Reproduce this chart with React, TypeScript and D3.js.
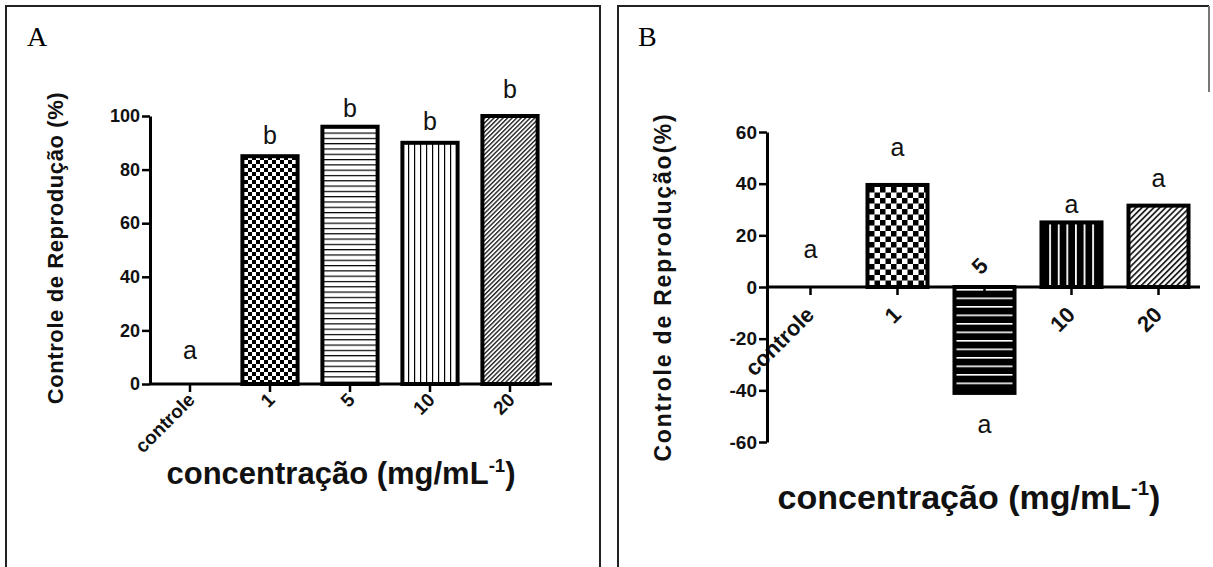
import React, { useEffect, useRef } from "react";
import * as d3 from "d3";

// data
const categories = ["controle", "1", "5", "10", "20"];
const valuesA = [0, 85, 96, 90, 100];
const lettersA = ["a", "b", "b", "b", "b"];
const letterYA = [12.7, 93, 103, 98, 110];
const valuesB = [0, 39.5, -41, 25, 31.5];
const lettersB = ["a", "a", "a", "a", "a"];
const letterYB = [14.5, 54, -53, 32, 42];
const ticksA = [0, 20, 40, 60, 80, 100];
const ticksB = [-60, -40, -20, 0, 20, 40, 60];
const patternsA = ["chkA", "hA", "vA", "dA"];
const patternsB = ["chkB", "hB", "vB", "dB"];

const SANS = "Arial, 'Liberation Sans', Helvetica, sans-serif";
const SERIF = "'Liberation Serif', 'Times New Roman', serif";

export default function App() {
  const ref = useRef<SVGSVGElement>(null);

  useEffect(() => {
    const svg = d3.select(ref.current);
    svg.selectAll("*").remove();
    const defs = svg.append("defs");

    // fill patterns
    const checker = (id, s) => {
      const p = defs.append("pattern").attr("id", id).attr("patternUnits", "userSpaceOnUse")
        .attr("width", s * 2).attr("height", s * 2);
      p.append("rect").attr("width", s * 2).attr("height", s * 2).attr("fill", "#fff");
      p.append("rect").attr("width", s).attr("height", s).attr("fill", "#000");
      p.append("rect").attr("x", s).attr("y", s).attr("width", s).attr("height", s).attr("fill", "#000");
    };
    const lines = (id, s, dir, bg, fg, w) => {
      const p = defs.append("pattern").attr("id", id).attr("patternUnits", "userSpaceOnUse")
        .attr("width", s).attr("height", s);
      p.append("rect").attr("width", s).attr("height", s).attr("fill", bg);
      if (dir === "h") p.append("rect").attr("width", s).attr("height", w).attr("fill", fg);
      else p.append("rect").attr("width", w).attr("height", s).attr("fill", fg);
    };
    const diag = (id, s, w) => {
      const p = defs.append("pattern").attr("id", id).attr("patternUnits", "userSpaceOnUse")
        .attr("width", s).attr("height", s).attr("patternTransform", "rotate(45)");
      p.append("rect").attr("width", s).attr("height", s).attr("fill", "#fff");
      p.append("rect").attr("width", w).attr("height", s).attr("fill", "#222");
    };
    checker("chkA", 4);
    lines("hA", 5.3, "h", "#fff", "#000", 1.2);
    lines("vA", 6, "v", "#fff", "#000", 1.2);
    diag("dA", 3.2, 1.4);
    checker("chkB", 5.5);
    lines("hB", 8.5, "h", "#000", "#fff", 1.6);
    lines("vB", 8.6, "v", "#000", "#fff", 1.8);
    diag("dB", 4.2, 1.8);

    // panel frames
    const frame = svg.append("g").attr("fill", "none");
    frame.append("path").attr("d", "M6,567V6H600V567").attr("stroke", "#222").attr("stroke-width", 2);
    frame.append("path").attr("d", "M618,567V6H1209").attr("stroke", "#222").attr("stroke-width", 2);
    frame.append("path").attr("d", "M1209,6V92").attr("stroke", "#777").attr("stroke-width", 2);

    svg.append("text").attr("x", 27).attr("y", 46).attr("font-family", SERIF)
      .attr("font-size", 28).text("A");
    svg.append("text").attr("x", 638).attr("y", 46).attr("font-family", SERIF)
      .attr("font-size", 28).text("B");

    const drawPanel = (cfg) => {
      const g = svg.append("g");
      const x = d3.scaleBand().domain(categories).range(cfg.xRange).paddingInner(0.31).paddingOuter(0.155);
      const y = d3.scaleLinear().domain(cfg.domain).range(cfg.yRange);
      const y0 = y(0);
      const cx = d => x(d) + x.bandwidth() / 2;

      // x tick labels (drawn before the bars so the covered one sits behind)
      g.append("g").selectAll("text").data(categories).join("text")
        .attr("transform", d => `translate(${cx(d) + cfg.lblDx},${y0 + cfg.lblDy}) rotate(-45)`)
        .attr("text-anchor", "end")
        .attr("font-family", SANS).attr("font-weight", "bold").attr("font-size", cfg.xTickFont)
        .attr("fill", "#111")
        .text(d => d);

      // bars
      g.append("g").selectAll("rect").data(cfg.values.slice(1)).join("rect")
        .attr("x", (d, i) => x(categories[i + 1]))
        .attr("width", x.bandwidth())
        .attr("y", d => y(Math.max(0, d)))
        .attr("height", d => Math.abs(y(d) - y0))
        .attr("fill", (d, i) => `url(#${cfg.patterns[i]})`)
        .attr("stroke", "#000").attr("stroke-width", cfg.barStroke);

      // significance letters
      g.append("g").selectAll("text").data(cfg.letters).join("text")
        .attr("x", (d, i) => cx(categories[i]))
        .attr("y", (d, i) => y(cfg.letterY[i]))
        .attr("dy", "0.35em")
        .attr("text-anchor", "middle")
        .attr("font-family", SANS).attr("font-size", cfg.letterFont).attr("fill", "#111")
        .text(d => d);

      // axes
      const yAxis = g.append("g").attr("transform", `translate(${cfg.xRange[0]},0)`)
        .call(d3.axisLeft(y).tickValues(cfg.ticks).tickSize(8).tickSizeOuter(0).tickPadding(2)
          .tickFormat(d => String(d)));
      yAxis.select(".domain").attr("stroke-width", 3);
      yAxis.selectAll(".tick line").attr("stroke-width", 2.5);
      yAxis.selectAll(".tick text").attr("font-family", SANS).attr("font-weight", "bold")
        .attr("font-size", cfg.tickFont).attr("fill", "#111");

      const xAxis = g.append("g").attr("transform", `translate(0,${y0})`)
        .call(d3.axisBottom(x).tickSize(8).tickSizeOuter(0).tickFormat(() => ""));
      xAxis.select(".domain").attr("stroke-width", 3).attr("d", `M${cfg.xRange[0]},0H${cfg.xEnd}`);
      xAxis.selectAll(".tick line").attr("stroke-width", 2.5);

      if (cfg.extraLabel) {
        const d = cfg.extraLabel;
        g.append("text")
          .attr("transform", `translate(${cx(d) + cfg.lblDx},${y0 - 20}) rotate(-45)`)
          .attr("text-anchor", "end")
          .attr("font-family", SANS).attr("font-weight", "bold").attr("font-size", cfg.xTickFont)
          .attr("fill", "#111").text(d);
      }

      // titles
      g.append("text")
        .attr("transform", `translate(${cfg.yTitle[0]},${cfg.yTitle[1]}) rotate(-90)`)
        .attr("text-anchor", "middle")
        .attr("font-family", SANS).attr("font-weight", "bold").attr("font-size", cfg.yTitleFont)
        .attr("letter-spacing", cfg.yTitleSpacing)
        .attr("fill", "#111").text(cfg.yLabel);

      const xt = g.append("text")
        .attr("x", cfg.xTitle[0]).attr("y", cfg.xTitle[1])
        .attr("text-anchor", "middle")
        .attr("font-family", SANS).attr("font-weight", "bold").attr("font-size", cfg.xTitleFont)
        .attr("fill", "#111");
      xt.append("tspan").text("concentração (mg/mL");
      xt.append("tspan").attr("dy", -cfg.xTitleFont * 0.4).attr("font-size", cfg.xTitleFont * 0.6).text("-1");
      xt.append("tspan").attr("dy", cfg.xTitleFont * 0.4).text(")");
    };

    drawPanel({
      xRange: [150, 550], xEnd: 552, domain: [0, 100], yRange: [384, 116],
      values: valuesA, letters: lettersA, letterY: letterYA, ticks: ticksA, patterns: patternsA,
      lblDx: 6, lblDy: 17, tickFont: 18, xTickFont: 19, letterFont: 25, barStroke: 4,
      yTitle: [63, 248], yTitleFont: 22, yTitleSpacing: 0.6, yLabel: "Controle de Reprodução (%)",
      xTitle: [341, 484], xTitleFont: 31,
    });
    drawPanel({
      xRange: [767, 1202], xEnd: 1200, domain: [-60, 60], yRange: [442, 132],
      values: valuesB, letters: lettersB, letterY: letterYB, ticks: ticksB, patterns: patternsB,
      lblDx: 5, lblDy: 29, tickFont: 19, xTickFont: 22, letterFont: 25, barStroke: 4, extraLabel: "5",
      yTitle: [671, 287], yTitleFont: 23, yTitleSpacing: 1.8, yLabel: "Controle de Reprodução(%)",
      xTitle: [969, 509], xTitleFont: 34,
    });
  }, []);

  return (
    <svg ref={ref} width={1213} height={567}
      style={{ position: "absolute", left: 0, top: 0, background: "#fff" }} />
  );
}
